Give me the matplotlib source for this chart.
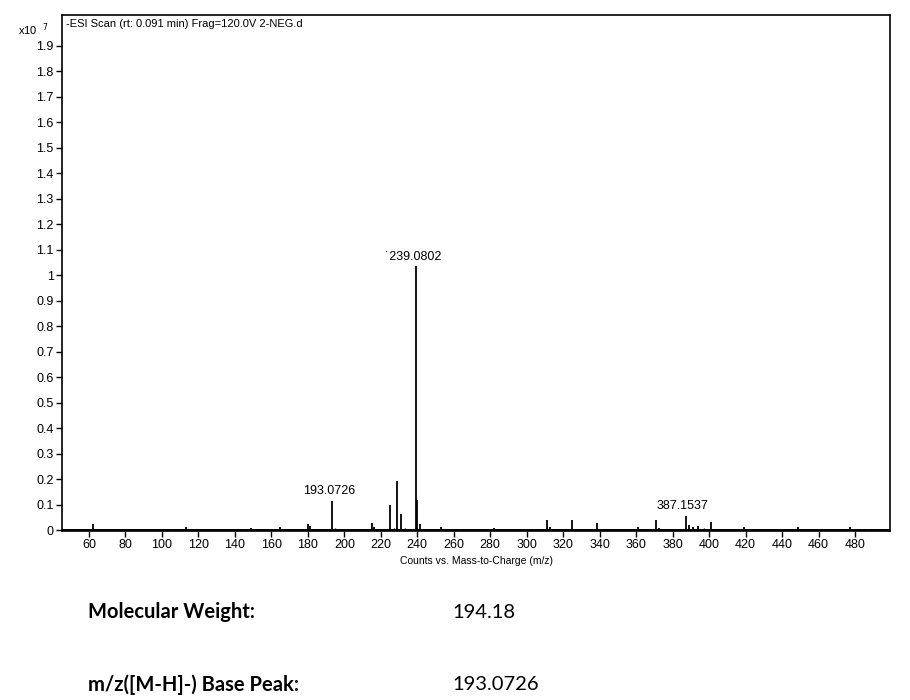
import matplotlib
matplotlib.use("Agg")
import matplotlib.pyplot as plt

plt.rcParams['font.family'] = ['Liberation Sans', 'DejaVu Sans']

# Major peaks (m/z, intensity in units of 1e7 counts)
major_mz = [62.0, 113.0, 149.0, 165.0, 179.9, 181.0, 193.0726, 215.0, 216.5, 225.1,
            229.0, 231.0, 239.0802, 240.08, 241.5, 253.0, 282.0, 310.9, 312.9,
            324.9, 338.5, 361.0, 371.0, 372.5, 387.1537, 389.0, 391.2, 394.0,
            401.0, 419.0, 449.0, 477.0]
major_int = [0.025, 0.012, 0.010, 0.012, 0.027, 0.016, 0.115, 0.030, 0.012, 0.100,
             0.192, 0.065, 1.035, 0.120, 0.025, 0.012, 0.010, 0.040, 0.015,
             0.043, 0.030, 0.012, 0.040, 0.010, 0.058, 0.020, 0.014, 0.016,
             0.032, 0.012, 0.015, 0.012]

# Small baseline peaks
minor_mz = [55, 58, 66, 70, 74, 78, 81, 84, 86, 88, 91, 93, 96, 99, 101, 104, 107, 110,
            116, 119, 122, 125, 128, 131, 134, 137, 140, 143, 146, 152, 155, 158, 161,
            168, 171, 174, 177, 184, 187, 190, 195, 198, 202, 206, 210, 213, 219, 222,
            227, 233, 236, 243, 246, 250, 257, 261, 265, 269, 273, 277, 286, 290, 294,
            298, 302, 306, 316, 320, 328, 332, 336, 343, 347, 351, 355, 358, 365, 368,
            375, 379, 383, 397, 405, 409, 413, 416, 423, 427, 431, 435, 439, 443, 446,
            453, 457, 461, 465, 469, 473, 475, 481, 485, 489, 493]
minor_int = [0.004, 0.005, 0.004, 0.005, 0.004, 0.005, 0.006, 0.005, 0.007, 0.006, 0.007,
             0.005, 0.006, 0.007, 0.006, 0.005, 0.006, 0.004, 0.005, 0.006, 0.005, 0.006,
             0.005, 0.006, 0.006, 0.005, 0.005, 0.006, 0.005, 0.006, 0.005, 0.006, 0.005,
             0.006, 0.005, 0.006, 0.005, 0.006, 0.005, 0.004, 0.008, 0.005, 0.005, 0.006,
             0.005, 0.006, 0.007, 0.006, 0.008, 0.010, 0.006, 0.007, 0.006, 0.005, 0.006,
             0.005, 0.006, 0.005, 0.006, 0.005, 0.006, 0.005, 0.006, 0.005, 0.006, 0.007,
             0.006, 0.005, 0.006, 0.005, 0.006, 0.005, 0.006, 0.005, 0.006, 0.007, 0.005,
             0.006, 0.007, 0.006, 0.005, 0.008, 0.006, 0.005, 0.006, 0.005, 0.005, 0.006,
             0.005, 0.004, 0.005, 0.006, 0.005, 0.006, 0.005, 0.006, 0.005, 0.006, 0.005,
             0.007, 0.005, 0.004, 0.005, 0.004]

labeled_mz = [193.0726, 239.0802, 387.1537]
labeled_int = [0.115, 1.035, 0.058]
labeled_text = ["193.0726", "˙239.0802", "387.1537"]

y_ticks = [0, 0.1, 0.2, 0.3, 0.4, 0.5, 0.6, 0.7, 0.8, 0.9, 1, 1.1, 1.2, 1.3, 1.4,
           1.5, 1.6, 1.7, 1.8, 1.9]
y_labels = ["0", "0.1", "0.2", "0.3", "0.4", "0.5", "0.6", "0.7", "0.8", "0.9", "1",
            "1.1", "1.2", "1.3", "1.4", "1.5", "1.6", "1.7", "1.8", "1.9"]
x_ticks = list(range(60, 481, 20))

info_labels = ["Molecular Weight:", "m/z([M-H]-) Base Peak:"]
info_values = ["194.18", "193.0726"]

fig = plt.figure(figsize=(9.1, 7.0), dpi=100)
ax = fig.add_axes([62/910, 1-531/700, (890-62)/910, (531-15)/700])

xmin, xmax = 45.2, 499.2
ax.set_xlim(xmin, xmax)
ax.set_ylim(-0.002, 2.02)

ax.hlines(0, xmin, xmax, color='black', lw=1.4)
ax.vlines(minor_mz, 0, minor_int, color='black', lw=1.0)
ax.vlines(major_mz, 0, major_int, color='black', lw=1.3)

for mz, h, t in zip(labeled_mz, labeled_int, labeled_text):
    ax.text(mz - 1.5, h + 0.015, t, ha='center', va='bottom', fontsize=9)

ax.set_yticks(y_ticks)
ax.set_yticklabels(y_labels)
ax.set_xticks(x_ticks)
ax.set_xticklabels([str(v) for v in x_ticks])
ax.tick_params(axis='both', direction='out', length=4, width=1, labelsize=9, pad=2)
ax.tick_params(top=False, right=False)
for s in ax.spines.values():
    s.set_linewidth(1.2)

ax.set_xlabel("Counts vs. Mass-to-Charge (m/z)", fontsize=7.5, labelpad=3)
ax.text(0.005, 0.993, "-ESI Scan (rt: 0.091 min) Frag=120.0V 2-NEG.d",
        transform=ax.transAxes, ha='left', va='top', fontsize=8)
fig.text(18/910, 1-30/700, r"x10  $^{7}$", ha='left', va='center', fontsize=8)

for i, (lab, val) in enumerate(zip(info_labels, info_values)):
    y = 1 - (612 + 73*i)/700
    fig.text(88/910, y, lab, ha='left', va='center', fontsize=14.5, fontweight='bold',
             family=['Lato', 'DejaVu Sans'])
    fig.text(452/910, y, val, ha='left', va='center', fontsize=14.5,
             family=['Lato', 'DejaVu Sans'])

fig.savefig("out.png", dpi=100)
